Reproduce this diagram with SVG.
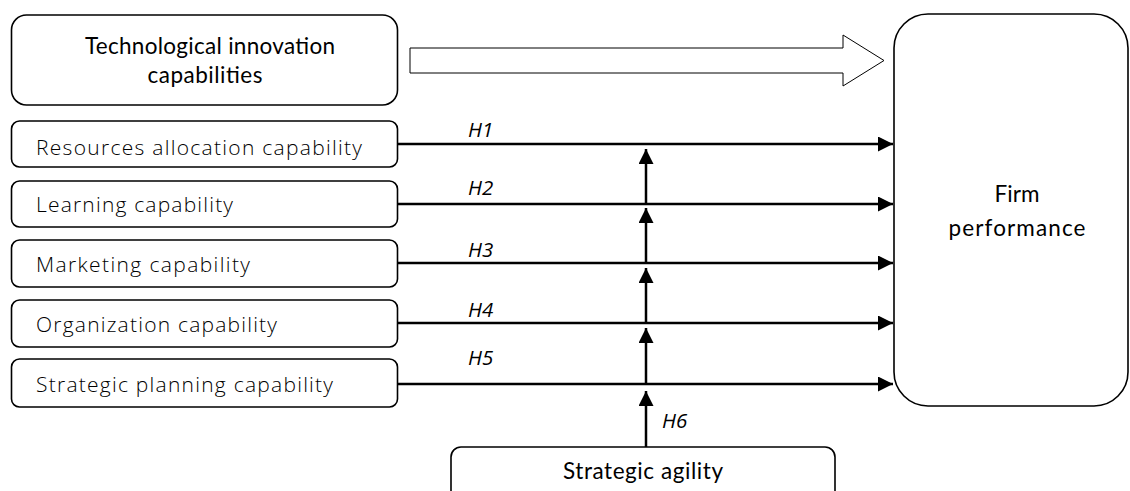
<svg xmlns="http://www.w3.org/2000/svg" width="1130" height="491" viewBox="0 0 1130 491">
<style>
.box{fill:#fff;stroke:#000;stroke-width:1.6}
.t{font-family:"Open Sans","Liberation Sans",sans-serif;fill:#000}
.cap{font-size:21px;font-weight:300}
.big{font-family:Lato,"Open Sans",sans-serif;font-size:22.5px}
.h{font-family:"Open Sans","Liberation Sans",sans-serif;font-size:20.5px;font-style:italic;fill:#000}
.ln{stroke:#000;stroke-width:2.5;fill:none}
</style>
<defs>
<marker id="ah" markerUnits="userSpaceOnUse" markerWidth="16" markerHeight="16" refX="15" refY="7.5" orient="auto">
<path d="M0,0 L15,7.5 L0,15 z" fill="#000"/>
</marker>
</defs>
<g id="tech"><rect class="box" x="11.5" y="15" width="386" height="90" rx="15"/>
<text class="t big" x="210" y="54" text-anchor="middle" textLength="250">Technological innovation</text>
<text class="t big" x="205" y="83" text-anchor="middle" textLength="115">capabilities</text></g>
<g id="resources"><rect class="box" x="11.5" y="121" width="386" height="46" rx="8"/>
<text class="t cap" x="36" y="155" textLength="326">Resources allocation capability</text></g>
<g id="learning"><rect class="box" x="11.5" y="181" width="386" height="46" rx="8"/>
<text class="t cap" x="36" y="212" textLength="197">Learning capability</text></g>
<g id="marketing"><rect class="box" x="11.5" y="240" width="386" height="47" rx="8"/>
<text class="t cap" x="36" y="272" textLength="214">Marketing capability</text></g>
<g id="organization"><rect class="box" x="11.5" y="300" width="386" height="47" rx="8"/>
<text class="t cap" x="36" y="332" textLength="241">Organization capability</text></g>
<g id="planning"><rect class="box" x="11.5" y="359" width="386" height="48" rx="8"/>
<text class="t cap" x="36" y="392" textLength="297">Strategic planning capability</text></g>
<g id="firm"><rect class="box" x="894" y="14" width="234" height="392" rx="34"/>
<text class="t big" x="1017" y="202" text-anchor="middle">Firm</text>
<text class="t big" x="1017" y="236" text-anchor="middle" textLength="137">performance</text></g>
<g id="agility"><rect class="box" x="451" y="447" width="384" height="60" rx="10"/>
<text class="t big" x="643" y="479" text-anchor="middle" textLength="160">Strategic agility</text></g>
<g id="connectors">
<polygon points="410,48 843,48 843,35 884,60.5 843,86 843,73 410,73" fill="#fff" stroke="#000" stroke-width="1"/>
<line class="ln" x1="397" y1="144" x2="893" y2="144" marker-end="url(#ah)"/>
<line class="ln" x1="397" y1="204" x2="893" y2="204" marker-end="url(#ah)"/>
<line class="ln" x1="397" y1="263" x2="893" y2="263" marker-end="url(#ah)"/>
<line class="ln" x1="397" y1="323" x2="893" y2="323" marker-end="url(#ah)"/>
<line class="ln" x1="397" y1="384" x2="893" y2="384" marker-end="url(#ah)"/>
<line class="ln" x1="646" y1="204" x2="646" y2="149" marker-end="url(#ah)"/>
<line class="ln" x1="646" y1="263" x2="646" y2="208" marker-end="url(#ah)"/>
<line class="ln" x1="646" y1="323" x2="646" y2="268" marker-end="url(#ah)"/>
<line class="ln" x1="646" y1="384" x2="646" y2="328" marker-end="url(#ah)"/>
<line class="ln" x1="646" y1="447" x2="646" y2="391" marker-end="url(#ah)"/>
<text class="h" x="468" y="137">H1</text>
<text class="h" x="468" y="195">H2</text>
<text class="h" x="468" y="257">H3</text>
<text class="h" x="468" y="317">H4</text>
<text class="h" x="468" y="365">H5</text>
<text class="h" x="662" y="428">H6</text>
</g>
</svg>
